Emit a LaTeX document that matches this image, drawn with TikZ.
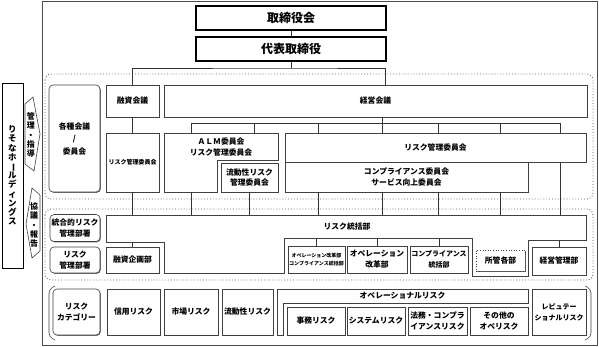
\documentclass[tikz,border=0pt]{standalone}
\usepackage{fontspec}
\setmainfont{Noto Sans CJK JP}
\usetikzlibrary{shadows}

\newcommand{\boxfont}{\fontsize{7.8}{11}\selectfont\bfseries}
\newcommand{\tatebar}{\rotatebox[origin=c]{-90}{ー}}

\begin{document}
\begin{tikzpicture}[
  x=1pt, y=-1pt,
  conn/.style={draw=black!80, line width=0.6pt},
  box/.style={draw=black!75, fill=white, line width=0.6pt, align=center, inner sep=0pt, font=\boxfont,
    drop shadow={shadow xshift=0.8pt, shadow yshift=-0.8pt, fill=black!60, opacity=1}},
  rbox/.style={box, rounded corners=4pt},
  polybox/.style={draw=black!75, fill=white, line width=0.6pt,
    drop shadow={shadow xshift=0.8pt, shadow yshift=-0.8pt, fill=black!60, opacity=1}},
  lbl/.style={align=center, inner sep=0pt, font=\boxfont},
  topbox/.style={draw=black, line width=1.4pt, fill=white, inner sep=0pt, font=\fontsize{12}{14}\selectfont\bfseries},
  zone/.style={draw=black!60, dotted, line width=0.9pt, rounded corners=6pt},
  bracket/.style={draw=black!75, line width=0.6pt, rounded corners=4pt},
  tate/.style={align=center, inner sep=0pt, font=\fontsize{8.5}{9.2}\selectfont\bfseries},
  arrowbox/.style={draw=black!75, fill=white, line width=0.6pt}
]
  \useasboundingbox (0,0) rectangle (599,346);

  % 外枠・区画
  \draw[draw=black!70, line width=0.8pt] (42,1) rectangle (597,345);
  \draw[zone] (45,74) rectangle (593,199);
  \draw[zone] (45,209) rectangle (593,280);
  \draw[bracket] (55,286) -- (49,289) -- (49,337) -- (55,340);
  \draw[bracket] (585,286) -- (591,289) -- (591,337) -- (585,340);

  % 取締役会・代表取締役
  \node[topbox, minimum width=190, minimum height=24] (torishimari) at (291,18) {取締役会};
  \node[topbox, minimum width=190, minimum height=24] (daihyo) at (291,49) {代表取締役};

  % 各種会議／委員会
  \node[rbox, minimum width=51, minimum height=107, font=\fontsize{7.8}{12.5}\selectfont\bfseries] (kaigi) at (74.5,138.5) {各種会議\\/\\委員会};
  \node[box, minimum width=53, minimum height=32] (yushi) at (132.5,101) {融資会議};
  \node[box, minimum width=423, minimum height=32] (keiei) at (375.5,101) {経営会議};
  \node[box, minimum width=53, minimum height=59, font=\fontsize{6}{7}\selectfont\bfseries] (riskS) at (132.5,162.5) {リスク管理委員会};
  \filldraw[polybox] (164,133) -- (278,133) -- (278,160) -- (217,160) -- (217,192) -- (164,192) -- cycle;
  \node[lbl] (alm) at (221,147) {ＡＬＭ委員会\\リスク管理委員会};
  \node[box, minimum width=57, minimum height=29, font=\fontsize{7.8}{10}\selectfont\bfseries] (ryudo) at (249.5,177.5) {流動性リスク\\管理委員会};
  \node[box, minimum width=301, minimum height=29] (riskL) at (435.5,147.5) {リスク管理委員会};
  \node[box, minimum width=243, minimum height=30] (comp) at (406.5,177) {コンプライアンス委員会\\サービス向上委員会};

  % リスク管理部署
  \node[rbox, minimum width=50, minimum height=27] (togo) at (75,228) {統合的リスク\\管理部署};
  \node[rbox, minimum width=50, minimum height=26] (riskbu) at (75,260) {リスク\\管理部署};
  \filldraw[polybox] (106,215) -- (586,215) -- (586,240) -- (528,240) -- (528,276) -- (472,276) -- (472,238)
    -- (284,238) -- (284,273) -- (164,273) -- (164,242) -- (106,242) -- cycle;
  \node[lbl] (tokatsu) at (347,227) {リスク統括部};
  \node[box, minimum width=53, minimum height=26] (yushikikaku) at (132.5,260) {融資企画部};
  \node[box, minimum width=57, minimum height=27, font=\fontsize{5}{8}\selectfont\bfseries] (opcomp) at (316.5,259.5) {オペレーション改革部\\コンプライアンス統括部};
  \node[box, minimum width=60, minimum height=27] (opkaikaku) at (377,259.5) {オペレーション\\改革部};
  \node[box, minimum width=58, minimum height=27, font=\fontsize{7}{11}\selectfont\bfseries] (compto) at (439,259.5) {コンプライアンス\\統括部};
  \node[box, dotted, line width=0.8pt, drop shadow={opacity=0}, minimum width=49, minimum height=21] (shokan) at (500.5,260.5) {所管各部};
  \node[box, minimum width=54, minimum height=28] (keieikanri) at (559,261) {経営管理部};

  % リスクカテゴリー
  \node[rbox, minimum width=47, minimum height=46] (category) at (76.5,312) {リスク\\カテゴリー};
  \node[box, minimum width=53, minimum height=46] (shinyo) at (133.5,312) {信用リスク};
  \node[box, minimum width=54, minimum height=46] (shijo) at (191,312) {市場リスク};
  \node[box, minimum width=51, minimum height=46] (ryudoR) at (247.5,312) {流動性リスク};
  \filldraw[polybox] (277,289) -- (528,289) -- (528,303) -- (283,303) -- (283,335) -- (277,335) -- cycle;
  \node[lbl] (opR) at (402.5,296) {オペレーショナルリスク};
  \node[box, minimum width=58, minimum height=28] (jimu) at (316,321) {事務リスク};
  \node[box, minimum width=58, minimum height=28] (system) at (376,321) {システムリスク};
  \node[box, minimum width=59, minimum height=28] (homu) at (437.5,321) {法務・コンプラ\\イアンスリスク};
  \node[box, minimum width=58, minimum height=28] (sonota) at (499,321) {その他の\\オペリスク};
  \node[box, minimum width=54, minimum height=46, font=\fontsize{7}{11}\selectfont\bfseries] (repu) at (559,312) {レピュテー\\ショナルリスク};

  % りそなホールディングス
  \node[draw=black, line width=0.8pt, fill=white, minimum width=21, minimum height=185, inner sep=0pt] (resona) at (12.5,175.5) {};
  \node[tate] (resonaT) at (resona) {り\\そ\\な\\ホ\\\tatebar\\ル\\デ\\ィ\\ン\\グ\\ス};
  \draw[arrowbox] (25,104) -- (33,97) -- (40,134) -- (34,171) -- (25,164) -- cycle;
  \node[tate, font=\fontsize{8}{9.3}\selectfont\bfseries] (shido) at (31,135) {管\\理\\・\\指\\導};
  \draw[arrowbox] (40,195) -- (32,188) -- (26,224) -- (32,258) -- (40,251) -- cycle;
  \node[tate, font=\fontsize{8}{9.3}\selectfont\bfseries] (hokoku) at (34,225) {協\\議\\・\\報\\告};

  % 接続線
  \coordinate (jTop) at (291,68);
  \coordinate (keieiIn) at (385,85);
  \coordinate (jMid) at (382,123);
  \coordinate (almTop) at (221,133);
  \coordinate (almBot) at (221,192);
  \coordinate (tokTop) at (346,215);
  \coordinate (tokBot) at (380,238);
  \coordinate (tokBotL) at (133,242);
  \coordinate (tokBotR) at (560,240);
  \draw[conn] (torishimari) -- (daihyo);
  \draw[conn] (daihyo) -- (jTop);
  \draw[conn] (yushi) |- (jTop) -| (keieiIn);
  \draw[conn] (yushi) -- (riskS);
  \draw[conn] (keiei.south -| jMid) -- (riskL.north -| jMid);
  \draw[conn] (191,0 |- jMid) -- (560,0 |- jMid);
  \foreach \x in {191,254} \draw[conn] (\x,0 |- jMid) -- (\x,0 |- almTop);
  \foreach \x in {318,438,500,560} \draw[conn] (\x,0 |- jMid) -- (\x,0 |- riskL.north);
  \draw[conn] (riskS) -- (riskS.south |- tokTop);
  \draw[conn] (191,0 |- almBot) -- (191,0 |- tokTop);
  \draw[conn] (ryudo) -- (ryudo.south |- tokTop);
  \foreach \x in {318,382,438,500} \draw[conn] (\x,0 |- comp.south) -- (\x,0 |- tokTop);
  \draw[conn] (560,0 |- riskL.south) -- (560,0 |- tokTop);
  \draw[conn] (yushikikaku) -- (yushikikaku.north |- tokBotL);
  \foreach \c in {opcomp,opkaikaku,compto} \draw[conn] (\c) -- (\c.north |- tokBot);
  \draw[conn] (keieikanri) -- (keieikanri.north |- tokBotR);
\end{tikzpicture}
\end{document}
